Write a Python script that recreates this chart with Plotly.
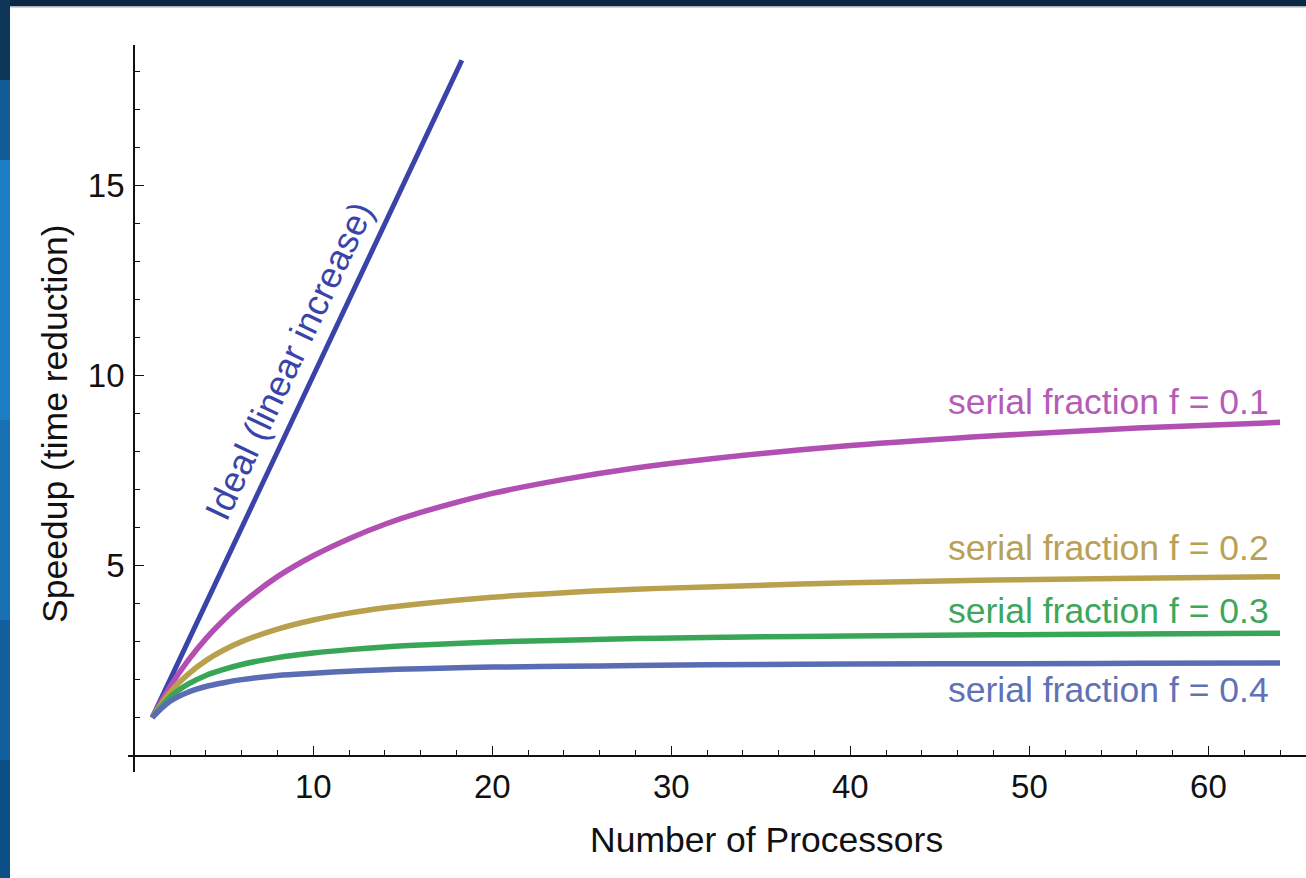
import plotly.graph_objects as go

# ---------------- data ----------------
processors = [1, 2, 3, 4, 5, 6, 8, 10, 12, 14, 16, 20, 24, 28, 32, 40, 48, 56, 64]
speedup_f01 = [1.00, 1.82, 2.50, 3.08, 3.57, 4.00, 4.71, 5.26, 5.71, 6.09, 6.40, 6.90, 7.27, 7.57, 7.80, 8.16, 8.42, 8.62, 8.77]
speedup_f02 = [1.00, 1.67, 2.14, 2.50, 2.78, 3.00, 3.33, 3.57, 3.75, 3.89, 4.00, 4.17, 4.29, 4.38, 4.44, 4.55, 4.62, 4.67, 4.71]
speedup_f03 = [1.00, 1.54, 1.88, 2.11, 2.27, 2.40, 2.58, 2.70, 2.79, 2.86, 2.91, 2.99, 3.04, 3.08, 3.11, 3.15, 3.18, 3.20, 3.22]
speedup_f04 = [1.00, 1.43, 1.67, 1.82, 1.92, 2.00, 2.11, 2.17, 2.22, 2.26, 2.29, 2.33, 2.35, 2.37, 2.39, 2.41, 2.42, 2.43, 2.44]
ideal_x = [1, 18.3]
ideal_y = [1, 18.3]

series_names = ["serial fraction f = 0.1", "serial fraction f = 0.2",
                "serial fraction f = 0.3", "serial fraction f = 0.4"]
series_values = [speedup_f01, speedup_f02, speedup_f03, speedup_f04]
label_y = [9.30, 5.46, 3.80, 1.72]   # label positions (speedup units)
label_x = 63.5

x_tickvals = [10, 20, 30, 40, 50, 60]
y_tickvals = [5, 10, 15]

x_title = "Number of Processors"
y_title = "Speedup (time reduction)"
ideal_label = "Ideal (linear increase)"

# ---------------- style ----------------
W, H = 1306, 878
ML, MR, MT, MB = 128, 0, 45, 106
XR = [-0.35, 65.45]
YR = [-0.43, 18.7]
FONT = "Liberation Sans, Arial, sans-serif"

line_colors = ["#b24fb2", "#b9a04c", "#38a656", "#5a6cb3"]
text_colors = ["#b45cb7", "#b8a156", "#3ea65d", "#6171b6"]
ideal_color = "#3a44a8"

pw = W - ML - MR
ph = H - MT - MB


def px_x(p):
    return (p - ML) / pw


def px_y(p):
    return (H - MB - p) / ph


fig = go.Figure()

fig.add_trace(go.Scatter(x=ideal_x, y=ideal_y, mode="lines",
                         line=dict(color=ideal_color, width=5),
                         hoverinfo="skip", showlegend=False))
for vals, col in zip(series_values, line_colors):
    fig.add_trace(go.Scatter(x=processors, y=vals, mode="lines",
                             line=dict(color=col, width=5.5, shape="spline", smoothing=1),
                             hoverinfo="skip", showlegend=False))

annotations = []
for name, ly, tc in zip(series_names, label_y, text_colors):
    annotations.append(dict(x=label_x, y=ly, xref="x", yref="y", text=name,
                            showarrow=False, xanchor="right", yanchor="middle",
                            font=dict(family=FONT, size=35.5, color=tc)))
annotations.append(dict(x=8.62, y=10.38, xref="x", yref="y", text=ideal_label,
                        showarrow=False, textangle=-64.7, xanchor="center", yanchor="middle",
                        font=dict(family=FONT, size=36, color=ideal_color)))
annotations.append(dict(x=px_x(766), y=px_y(840), xref="paper", yref="paper",
                        text=x_title, showarrow=False, xanchor="center", yanchor="middle",
                        font=dict(family=FONT, size=35.5, color="#111111")))
annotations.append(dict(x=px_x(55), y=px_y(424), xref="paper", yref="paper",
                        text=y_title, showarrow=False, textangle=-90,
                        xanchor="center", yanchor="middle",
                        font=dict(family=FONT, size=35.5, color="#111111")))

# slide frame decoration (dark top band and blue left band)
shapes = [
    dict(type="rect", xref="paper", yref="paper", x0=px_x(0), x1=px_x(W), y0=px_y(0), y1=px_y(6),
         fillcolor="#0c2740", line=dict(width=0), layer="above"),
    dict(type="rect", xref="paper", yref="paper", x0=px_x(10), x1=px_x(W), y0=px_y(6), y1=px_y(7.5),
         fillcolor="#a9b2ba", line=dict(width=0), layer="above"),
]
left_band = [(0, 80, "#0c3558"), (80, 160, "#125c96"), (160, 420, "#1b7fc6"),
             (420, 620, "#1771b3"), (620, 760, "#115f9c"), (760, 878, "#0b4f86")]
for y0, y1, c in left_band:
    shapes.append(dict(type="rect", xref="paper", yref="paper", x0=px_x(0), x1=px_x(10),
                       y0=px_y(y1), y1=px_y(y0), fillcolor=c, line=dict(width=0), layer="above"))

fig.update_layout(
    width=W, height=H,
    margin=dict(l=ML, r=MR, t=MT, b=MB, pad=0),
    paper_bgcolor="white", plot_bgcolor="white",
    showlegend=False,
    annotations=annotations,
    shapes=shapes,
    font=dict(family=FONT, color="#111111"),
)

fig.update_xaxes(
    range=XR, anchor="free", position=(0 - YR[0]) / (YR[1] - YR[0]),
    showgrid=False, zeroline=False, showline=True, linecolor="#111111", linewidth=2.2,
    tickmode="array", tickvals=x_tickvals, ticks="inside", ticklen=9, tickwidth=1.2,
    tickcolor="#111111", tickfont=dict(family=FONT, size=33, color="#111111"),
    ticklabelstandoff=2,
    minor=dict(dtick=2, tick0=0, ticks="inside", ticklen=5, tickwidth=1, tickcolor="#111111"),
    fixedrange=True,
)
fig.update_yaxes(
    range=YR, anchor="free", position=(0 - XR[0]) / (XR[1] - XR[0]),
    showgrid=False, zeroline=False, showline=True, linecolor="#111111", linewidth=2.2,
    tickmode="array", tickvals=y_tickvals, ticks="inside", ticklen=9, tickwidth=1.2,
    tickcolor="#111111", tickfont=dict(family=FONT, size=33, color="#111111"),
    ticklabelstandoff=2,
    minor=dict(dtick=1, tick0=0, ticks="inside", ticklen=5, tickwidth=1, tickcolor="#111111"),
    fixedrange=True,
)

fig.write_html("out.html", config={"displayModeBar": False},
               post_script="document.body.style.margin='0';document.body.style.overflow='hidden';")
